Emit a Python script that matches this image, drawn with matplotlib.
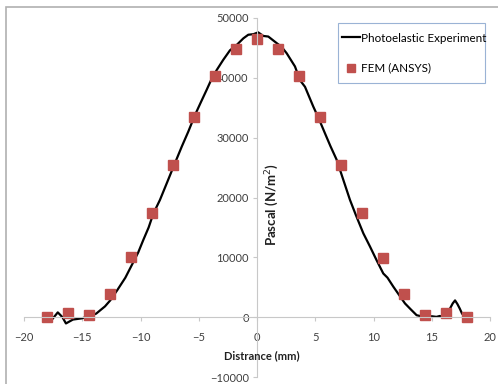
import matplotlib.pyplot as plt
from matplotlib.patches import Rectangle

plt.rcParams['font.family'] = ['Lato', 'DejaVu Sans']

# Photoelastic experiment curve
exp_x = [-17.6, -17.1, -16.7, -16.4, -15.8, -15.05, -14.3, -13.8, -13.05, -12.6,
         -12.0, -11.3, -10.67, -10.2, -9.76, -9.3, -8.9, -8.33, -7.7, -7.18, -6.46,
         -5.9, -5.32, -4.8, -4.32, -3.9, -3.46, -2.9, -2.32, -1.74, -1.17, -0.75,
         -0.3, 0.1, 0.54, 0.97, 1.69, 2.1, 2.55, 3.26, 3.69, 4.12, 4.83, 5.3, 5.84,
         6.3, 6.84, 7.4, 7.98, 8.5, 9.13, 9.7, 10.27, 10.84, 11.2, 11.7, 12.2, 12.7,
         13.2, 13.7, 14.2, 14.6, 15.0, 15.4, 15.7, 16.0, 16.3, 16.57, 16.8, 17.0,
         17.2, 17.4, 17.6, 17.85]
exp_y = [-400, 800, 0, -1050, -400, -200, 200, 600, 1800, 2800,
         4500, 6600, 9000, 10800, 12900, 15000, 17300, 19600, 22600, 25100, 28500,
         31000, 33800, 36000, 38000, 39800, 41300, 43000, 44600, 45500, 46600, 47200,
         47300, 47600, 47000, 46900, 45800, 45200, 44100, 41900, 39600, 38500, 35200, 33200, 30700,
         28600, 26300, 23000, 19600, 17000, 14000, 11800, 9500, 7300, 6600, 5100, 3700, 2300,
         1300, 330, 100, 50, 150, 50, 200, -50, 300, 1450, 2300, 2800,
         2200, 1450, 600, 50]

# FEM (ANSYS) points
fem_x = [-18, -16.2, -14.4, -12.6, -10.8, -9, -7.2, -5.4, -3.6, -1.8, 0,
         1.8, 3.6, 5.4, 7.2, 9, 10.8, 12.6, 14.4, 16.2, 18]
fem_y = [0, 700, 300, 3900, 10000, 17400, 25500, 33500, 40300, 44900, 46500,
         44900, 40300, 33500, 25500, 17400, 9900, 3900, 300, 700, 0]

W, H = 498, 384
fig = plt.figure(figsize=(W / 100, H / 100), dpi=100)
# chart-area border (cut by the image edges on the right and bottom)
fig.patches.append(Rectangle((6 / W, -0.1), 1.2, 1 - 7 / H + 0.1,
                             transform=fig.transFigure, fill=False,
                             edgecolor='#b0b0b0', linewidth=1.2))

ax = fig.add_axes([24 / W, 1 - 377 / H, (490 - 24) / W, (377 - 18) / H])
ax.plot(exp_x, exp_y, color='black', linewidth=1.6, label='Photoelastic Experiment')
ax.plot(fem_x, fem_y, linestyle='none', marker='s', markersize=6.5,
        color='#c0504d', label='FEM (ANSYS)')

ax.set_xlim(-20, 20)
ax.set_ylim(-10000, 50000)
ax.set_xticks(range(-20, 21, 5))
ax.set_yticks(range(-10000, 50001, 10000))

for side in ['top', 'right']:
    ax.spines[side].set_visible(False)
ax.spines['left'].set_position(('data', 0))
ax.spines['bottom'].set_position(('data', 0))
for side in ['left', 'bottom']:
    ax.spines[side].set_color('#c8c8c8')
ax.tick_params(axis='both', colors='#c8c8c8', labelcolor='#404040',
               labelsize=8, length=3)
ax.tick_params(axis='x', pad=8)
ax.tick_params(axis='y', pad=3)

fig.text(262 / W, 1 - 356 / H, 'Distrance (mm)', ha='center', va='center',
         fontsize=8, fontweight='bold', color='#202020')
fig.text(272 / W, 1 - 205 / H, 'Pascal (N/m$^2$)', ha='center', va='center',
         rotation=90, fontsize=9.5, fontweight='bold', color='#202020')

# legend box drawn by hand, entries from ax.legend without its own frame
ax.add_patch(Rectangle((338 / W, 1 - 83 / H), 147 / W, 60 / H,
                       transform=fig.transFigure, facecolor='white',
                       edgecolor='#9ab3d5', linewidth=0.8, zorder=4.5,
                       clip_on=False))
leg = ax.legend(loc='upper left', bbox_to_anchor=(338 / W, 1 - 29 / H),
                bbox_transform=fig.transFigure, fontsize=8.4, frameon=False,
                borderpad=0.3, borderaxespad=0, labelspacing=1.65,
                handlelength=1.55, handletextpad=0.15, markerscale=0.8)
leg.set_zorder(6)

fig.savefig('out.png', dpi=100)
